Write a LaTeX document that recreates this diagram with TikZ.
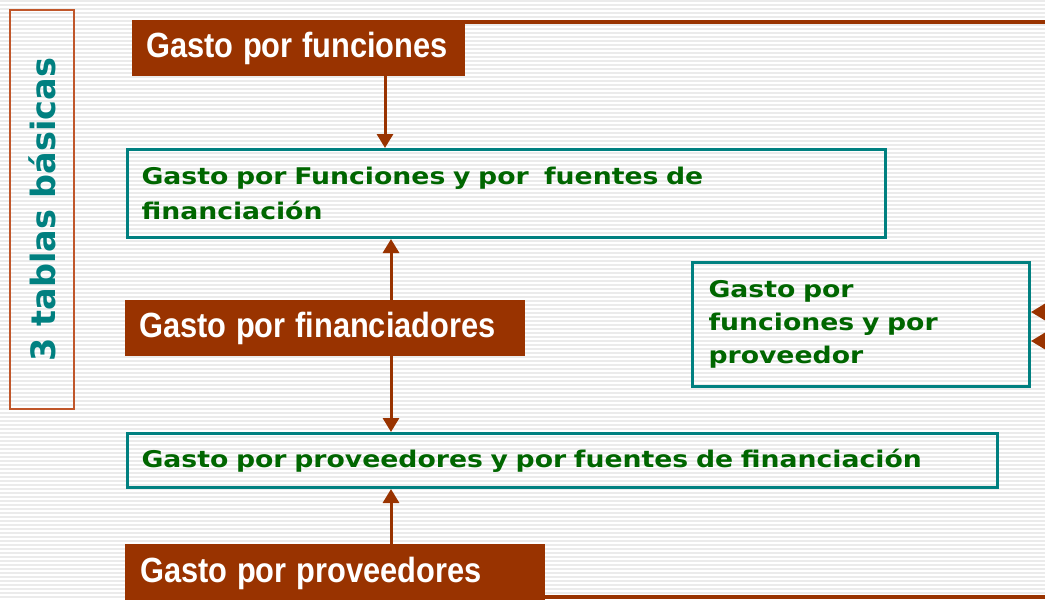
\documentclass[tikz,border=0pt]{standalone}
\usepackage{fontspec}
\setmainfont{DejaVu Sans}
\newfontfamily\brownfont[FakeStretch=0.88]{Liberation Sans}
\newfontfamily\greenfont[FakeStretch=1.16]{DejaVu Sans}
\usetikzlibrary{arrows.meta}
\definecolor{brn}{HTML}{993300}
\definecolor{tl}{HTML}{008080}
\definecolor{grn}{HTML}{006600}
\definecolor{orb}{HTML}{C0562A}
\definecolor{stripe}{HTML}{EBEBEB}
\begin{document}
\begin{tikzpicture}[x=1pt,y=-1pt,
  brownbox/.style={fill=brn, text=white, font=\brownfont\bfseries\fontsize{35}{40}\selectfont,
    inner xsep=14pt, inner ysep=0pt, anchor=north west, align=left},
  tealbox/.style={draw=tl, line width=3pt, text=grn, font=\greenfont\bfseries\fontsize{23}{35}\selectfont,
    inner xsep=14pt, inner ysep=0pt, anchor=north west, align=left},
  arr/.style={draw=brn, line width=3pt, -{Triangle[length=14pt,width=16pt]}},
  link/.style={draw=brn, line width=4pt}]
\useasboundingbox (0,0) rectangle (1045,600);
\fill[white] (0,0) rectangle (1045,600);
\foreach \yy in {1,5,...,600} \draw[stripe, line width=1.6pt] (0,\yy) -- (1045,\yy);

\node[draw=orb, line width=2pt, rotate=90, minimum width=399pt, minimum height=64pt, inner sep=0pt,
  text=tl, font=\bfseries\fontsize{33.5}{36}\selectfont] (side) at (42,209.5) {3 tablas básicas};

\node[brownbox, text width=305pt, minimum height=56pt] (fun) at (132,20) {\mbox{Gasto\hspace{-2pt} por\hspace{-2pt} funciones}};
\node[tealbox, text width=730pt, minimum height=88pt] (ff) at (126,148)
  {Gasto por Funciones y por \ fuentes de\\financiación};
\node[tealbox, inner xsep=16pt, text width=305pt, minimum height=124pt, font=\greenfont\bfseries\fontsize{23}{33}\selectfont] (fp) at (691,261)
  {Gasto por\\funciones y por\\proveedor};
\node[brownbox, inner xsep=14pt, text width=372pt, minimum height=56pt] (fin) at (125,300) {\mbox{Gasto\hspace{-2pt} por\hspace{-2pt} financiadores}};
\node[tealbox, text width=842pt, minimum height=54pt] (pf) at (126,432)
  {Gasto por proveedores y por fuentes de financiación};
\node[brownbox, inner xsep=15pt, text width=390pt, minimum height=58pt] (prov) at (125,544) {\mbox{Gasto\hspace{-2pt} por\hspace{-2pt} proveedores}};

\coordinate (tr) at (1045,22);
\coordinate (br) at (1045,597);
\coordinate (r1) at (1045,312);
\coordinate (r2) at (1045,341);

\draw[arr] (fun.south -| 385,0) -- (ff.north -| 385,0);
\draw[arr] (fin.north -| 391,0) -- (ff.south -| 391,0);
\draw[arr] (fin.south -| 391,0) -- (pf.north -| 391,0);
\draw[arr] (prov.north -| 391,0) -- (pf.south -| 391,0);
\draw[link] (tr -| fun.east) -- (tr);
\draw[link] (br -| prov.east) -- (br);
\draw[arr] (r1) -- (r1 -| fp.east);
\draw[arr] (r2) -- (r2 -| fp.east);
\end{tikzpicture}
\end{document}
